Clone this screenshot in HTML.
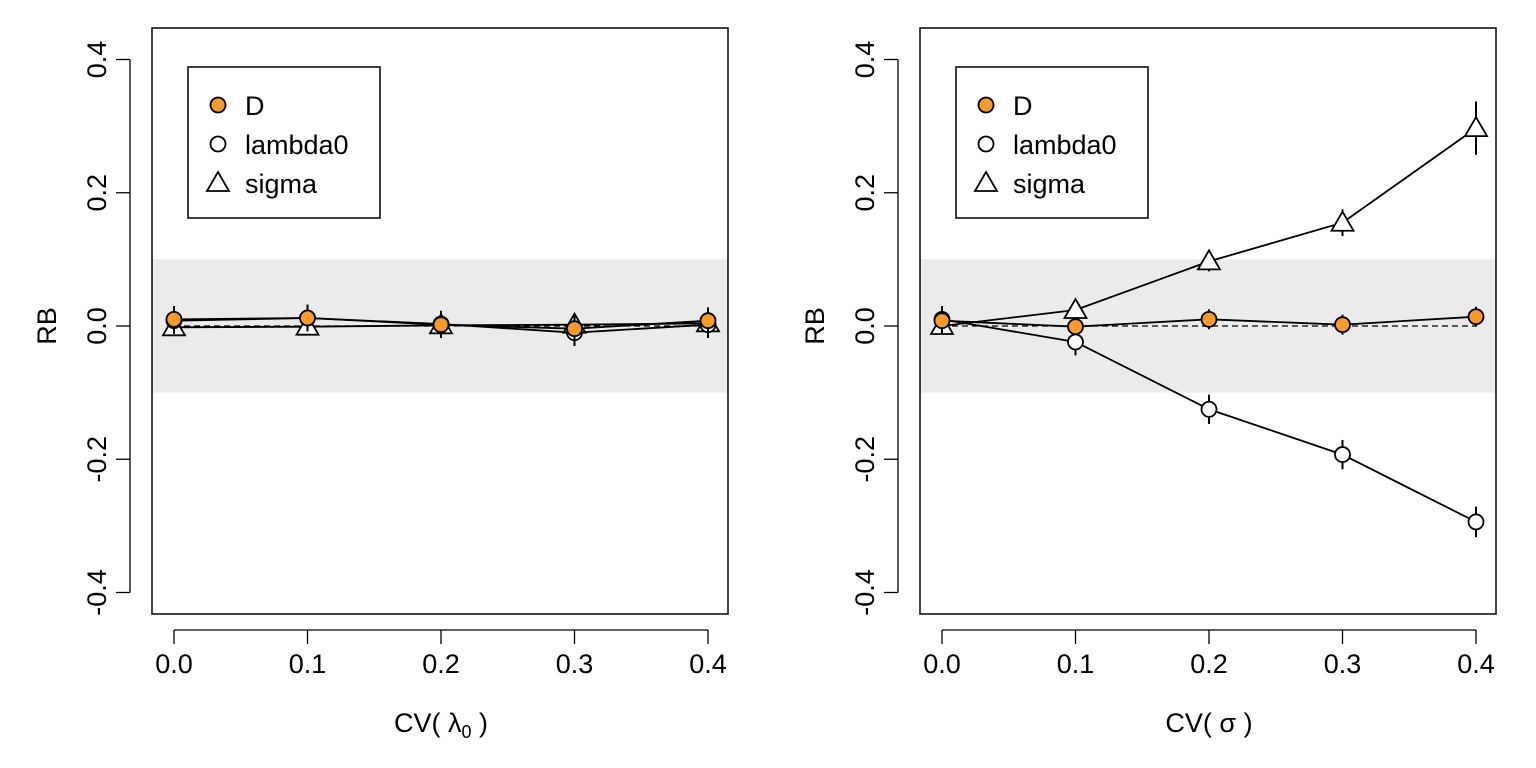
<!DOCTYPE html>
<html><head><meta charset="utf-8"><style>
html,body{margin:0;padding:0;background:#fff}
svg{display:block;font-family:"Liberation Sans",sans-serif}
</style></head><body>
<svg id="chart" width="1536" height="768" xmlns="http://www.w3.org/2000/svg"></svg>
<script>
const categories=[0,0.1,0.2,0.3,0.4];
const xTicks=["0.0","0.1","0.2","0.3","0.4"];
const yTicks=[-0.4,-0.2,0,0.2,0.4];
const yTickLabels=["-0.4","-0.2","0.0","0.2","0.4"];
const leftD=[0.010,0.012,0.002,-0.004,0.008];
const leftL=[0.008,0.012,0.003,-0.010,0.002];
const leftS=[-0.002,-0.001,0.001,0.002,0.004];
const leftDerr=[0.02,0.02,0.02,0.02,0.02];
const leftLerr=[0.02,0.02,0.02,0.02,0.02];
const leftSerr=[0.012,0.012,0.012,0.012,0.012];
const rightD=[0.008,-0.001,0.010,0.002,0.014];
const rightL=[0.010,-0.024,-0.125,-0.193,-0.294];
const rightS=[0.000,0.024,0.097,0.155,0.297];
const rightDerr=[0.02,0.012,0.015,0.015,0.015];
const rightLerr=[0.02,0.02,0.022,0.022,0.023];
const rightSerr=[0.012,0.012,0.015,0.02,0.04];

const NS="http://www.w3.org/2000/svg";
const svg=document.getElementById('chart');
function mk(t,a,p){const e=document.createElementNS(NS,t);for(const k in a)e.setAttribute(k,a[k]);(p||svg).appendChild(e);return e;}
function panel(x0,title,sub,D,L,S,De,Le,Se,name){
  const g=mk('g',{});
  
  
  const X=v=>x0+22+v*1335, Y=v=>326-v*666.25;
  const left=x0,right=x0+576,top=28,bot=614;
  const band=mk('rect',{x:left,y:Y(0.1),width:576,height:Y(-0.1)-Y(0.1),fill:'#ebebeb'},g);
  
  const ref=mk('line',{x1:X(0),x2:X(0.4),y1:Y(0),y2:Y(0),stroke:'#000','stroke-width':1.3,'stroke-dasharray':'6,4'},g);
  
  const series=[[S,Se,'tri','sigma'],[L,Le,'circ','lambda0'],[D,De,'fill','D']];
  series.forEach(([vals,errs,type,sn])=>{
    const sg=mk('g',{},g);
    
    mk('polyline',{points:vals.map((v,i)=>X(categories[i])+','+Y(v)).join(' '),fill:'none',stroke:'#000','stroke-width':1.8},sg);
    vals.forEach((v,i)=>{
      mk('line',{x1:X(categories[i]),x2:X(categories[i]),y1:Y(v+errs[i]),y2:Y(v-errs[i]),stroke:'#000','stroke-width':2},sg);
    });
    vals.forEach((v,i)=>{
      const cx=X(categories[i]),cy=Y(v);let m;
      if(type==='tri')m=mk('polygon',{points:`${cx-11},${cy+8} ${cx+11},${cy+8} ${cx},${cy-11}`,fill:'#fff',stroke:'#000','stroke-width':1.8},sg);
      else m=mk('circle',{cx:cx,cy:cy,r:7.5,fill:type==='fill'?'#f79a2e':'#fff',stroke:'#000','stroke-width':1.8},sg);
      
    });
  });
  mk('rect',{x:left,y:top,width:576,height:bot-top,fill:'none',stroke:'#000','stroke-width':1.5},g);
  mk('line',{x1:X(0),x2:X(0.4),y1:bot+16,y2:bot+16,stroke:'#000','stroke-width':1.3},g);
  categories.forEach((c,i)=>{
    mk('line',{x1:X(c),x2:X(c),y1:bot+16,y2:bot+30,stroke:'#000','stroke-width':1.3},g);
    const t=mk('text',{x:X(c),y:bot+59,'font-size':27,'text-anchor':'middle'},g);t.textContent=xTicks[i];
    
  });
  mk('line',{x1:left-22,x2:left-22,y1:Y(0.4),y2:Y(-0.4),stroke:'#000','stroke-width':1.3},g);
  yTicks.forEach((v,i)=>{
    mk('line',{x1:left-36,x2:left-22,y1:Y(v),y2:Y(v),stroke:'#000','stroke-width':1.3},g);
    const t=mk('text',{x:0,y:0,'font-size':27,'text-anchor':'middle',transform:`translate(${left-46},${Y(v)}) rotate(-90)`},g);t.textContent=yTickLabels[i];
    
  });
  const yt=mk('text',{x:0,y:0,'font-size':27,'text-anchor':'middle',transform:`translate(${left-96},${Y(0)}) rotate(-90)`},g);yt.textContent='RB';
  
  const xt=mk('text',{x:X(0.2),y:732,'font-size':27,'text-anchor':'middle'},g);
  xt.innerHTML='CV( '+title+(sub?'<tspan font-size="18" dy="6">'+sub+'</tspan><tspan dy="-6"> )</tspan>':' )');
  
  const lg=mk('g',{},g);
  
  mk('rect',{x:left+36,y:67,width:192,height:151,fill:'#fff',stroke:'#000','stroke-width':1.5},lg);
  [['D','fill',105],['lambda0','circ',144],['sigma','tri',183]].forEach(([lab,type,yy])=>{
    const cx=left+66;
    if(type==='tri')mk('polygon',{points:`${cx-11},${yy+8} ${cx+11},${yy+8} ${cx},${yy-11}`,fill:'#fff',stroke:'#000','stroke-width':1.8},lg);
    else mk('circle',{cx:cx,cy:yy,r:7.5,fill:type==='fill'?'#f79a2e':'#fff',stroke:'#000','stroke-width':1.8},lg);
    const t=mk('text',{x:left+93,y:yy+10,'font-size':27},lg);t.textContent=lab;
    
  });
}
panel(152,'λ','0',leftD,leftL,leftS,leftDerr,leftLerr,leftSerr,'left-panel');
panel(920,'σ','',rightD,rightL,rightS,rightDerr,rightLerr,rightSerr,'right-panel');
</script>
</body></html>
